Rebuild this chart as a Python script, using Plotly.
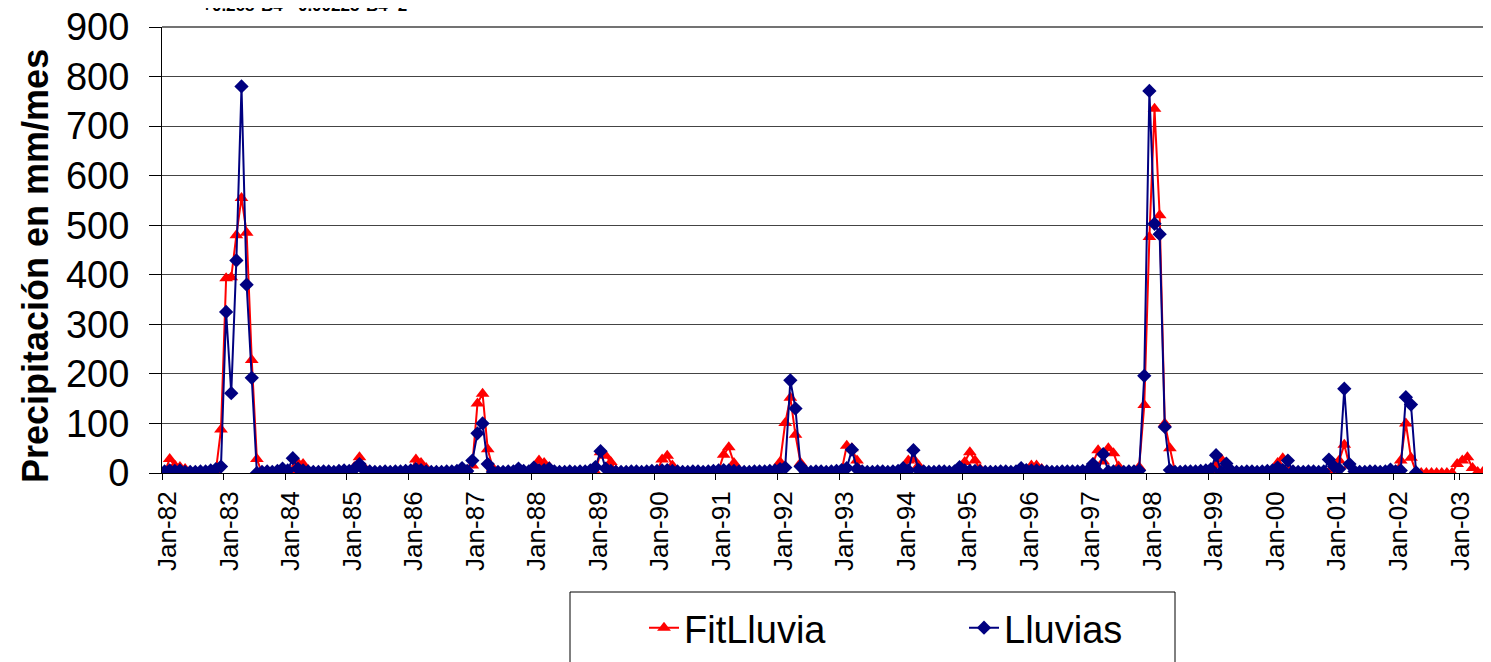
import pandas as pd
import plotly.graph_objects as go

# Monthly categories Jan-82 ... Aug-03
months = pd.date_range("1982-01-01", periods=260, freq="MS").strftime("%b-%y").tolist()

fit_lluvia = [
    2, 28, 15, 12, 8, 2, 0, 0, 0, 1, 4, 88,                # 1982
    393, 395, 480, 555, 485, 228, 28, 0, 0, 0, 2, 3,       # 1983
    5, 5, 20, 18, 5, 1, 0, 0, 0, 0, 1, 2,                  # 1984
    2, 12, 32, 10, 2, 0, 0, 0, 0, 0, 1, 2,                 # 1985
    3, 27, 20, 10, 2, 0, 0, 0, 0, 1, 2, 3,                 # 1986
    15, 140, 160, 48, 10, 0, 0, 0, 0, 1, 2, 2,             # 1987
    5, 25, 20, 12, 3, 0, 0, 0, 0, 0, 1, 2,                 # 1988
    2, 42, 35, 22, 5, 0, 0, 0, 0, 0, 1, 2,                 # 1989
    3, 27, 35, 15, 3, 0, 0, 0, 0, 0, 1, 3,                 # 1990
    5, 37, 52, 20, 3, 0, 0, 0, 0, 0, 1, 3,                 # 1991
    22, 101, 152, 77, 20, 2, 0, 0, 0, 0, 1, 2,             # 1992
    5, 55, 50, 25, 5, 0, 0, 0, 0, 0, 1, 2,                 # 1993
    5, 25, 28, 15, 3, 0, 0, 0, 0, 0, 1, 3,                 # 1994
    22, 42, 25, 8, 2, 0, 0, 0, 0, 0, 1, 3,                 # 1995
    3, 15, 15, 8, 2, 0, 0, 0, 0, 0, 1, 2,                  # 1996
    5, 20, 46, 23, 50, 40, 13, 0, 0, 1, 12, 137,           # 1997
    476, 735, 520, 100, 50, 3, 0, 0, 0, 0, 1, 3,           # 1998
    5, 16, 28, 10, 3, 0, 0, 0, 0, 0, 1, 2,                 # 1999
    3, 20, 30, 10, 4, 0, 0, 0, 0, 0, 1, 2,                 # 2000
    5, 25, 57, 15, 3, 0, 0, 0, 0, 0, 1, 3,                 # 2001
    5, 25, 100, 31, 2, 0, 0, 0, 0, 0, 0, 0,                # 2002
    18, 25, 32, 10, 2, 2, 0, 0,                            # 2003
]

lluvias = [
    3, 5, 4, 5, 2, 2, 2, 3, 3, 5, 8, 13,                   # 1982
    325, 161, 429, 780, 380, 192, 0, 2, 3, 2, 4, 9,        # 1983
    5, 30, 9, 5, 3, 2, 2, 3, 3, 2, 4, 5,                   # 1984
    4, 8, 18, 5, 3, 2, 2, 3, 2, 3, 3, 4,                   # 1985
    5, 8, 6, 3, 2, 2, 2, 3, 3, 4, 10, 4,                   # 1986
    25, 80, 100, 18, 2, 2, 2, 3, 3, 9, 4, 3,               # 1987
    11, 5, 6, 9, 3, 2, 2, 3, 2, 3, 3, 5,                   # 1988
    12, 44, 9, 4, 2, 2, 2, 3, 3, 2, 3, 4,                  # 1989
    4, 5, 6, 4, 3, 2, 2, 3, 3, 2, 3, 4,                    # 1990
    5, 6, 5, 4, 3, 2, 2, 3, 3, 3, 4, 5,                    # 1991
    8, 11, 187, 130, 13, 2, 2, 3, 3, 2, 3, 4,              # 1992
    6, 10, 47, 8, 3, 2, 2, 3, 3, 2, 3, 4,                  # 1993
    10, 5, 46, 6, 3, 2, 2, 3, 3, 2, 3, 12,                 # 1994
    5, 4, 4, 3, 2, 2, 2, 3, 3, 2, 3, 10,                   # 1995
    6, 5, 5, 4, 3, 2, 2, 3, 3, 3, 3, 4,                    # 1996
    5, 18, 2, 38, 3, 3, 3, 2, 3, 3, 5, 196,                # 1997
    771, 503, 482, 93, 6, 2, 2, 3, 3, 3, 4, 5,             # 1998
    8, 36, 2, 19, 4, 2, 2, 3, 3, 2, 3, 4,                  # 1999
    5, 11, 6, 25, 3, 2, 2, 3, 3, 2, 3, 27,                 # 2000
    13, 8, 170, 18, 3, 2, 2, 3, 3, 2, 3, 7,                # 2001
    3, 5, 153, 138, 1,                                     # 2002
]

year_labels = [m for m in months if m.startswith("Jan")]
y_ticks = list(range(0, 1000, 100))

# The page body has an 8 px margin: figure pixel = screen pixel - 8
OFF = 8
W, H = 1491, 662
L, T = 162 - OFF, 27 - OFF
R = OFF
B = H - (473 - OFF)
pw, ph = W - L - R, H - T - B

def px_x(p):  # screen px -> paper x
    return (p - OFF - L) / pw

def px_y(p):  # screen px -> paper y
    return (H - B - (p - OFF)) / ph

fig = go.Figure()
fig.add_trace(go.Scatter(
    x=months[:len(fit_lluvia)], y=fit_lluvia, name="FitLluvia", mode="lines+markers",
    line=dict(color="#FF0000", width=2),
    marker=dict(symbol="triangle-up", size=12, color="#FF0000"),
))
fig.add_trace(go.Scatter(
    x=months[:len(lluvias)], y=lluvias, name="Lluvias", mode="lines+markers",
    line=dict(color="#000080", width=2),
    marker=dict(symbol="diamond", size=11, color="#000080"),
))

fig.update_layout(
    width=W, height=H,
    margin=dict(l=L, r=R, t=T, b=B, autoexpand=False),
    paper_bgcolor="white", plot_bgcolor="white",
    font=dict(family="Liberation Sans, Arial, sans-serif", color="black"),
    showlegend=True,
    legend=dict(
        orientation="h", x=px_x(644), xanchor="left", y=px_y(628), yanchor="middle",
        font=dict(size=38), bgcolor="rgba(0,0,0,0)", borderwidth=0,
        entrywidth=275, entrywidthmode="pixels", itemsizing="trace",
    ),
    xaxis=dict(
        type="category", categoryorder="array", categoryarray=months,
        range=[-0.5, 258.6], tickson="boundaries",
        tickmode="array", tickvals=year_labels, ticktext=year_labels,
        tickangle=-90, tickfont=dict(size=26), ticklabelshift=3, ticklabelstandoff=7,
        ticklabeloverflow="allow",
        ticks="outside", ticklen=6, tickcolor="black",
        showline=True, linecolor="black", linewidth=1,
        showgrid=False, zeroline=False, automargin=False,
    ),
    yaxis=dict(
        range=[0, 900], tickmode="array", tickvals=y_ticks,
        tickfont=dict(size=38), ticks="outside", ticklen=12, tickcolor="black",
        ticklabelstandoff=12, ticklabeloverflow="allow",
        showline=True, linecolor="black", linewidth=1,
        showgrid=True, gridcolor="#444", gridwidth=1, zeroline=False, automargin=False,
    ),
    shapes=[
        # top gridline (plotly skips the grid line at the range edge)
        dict(type="line", xref="paper", yref="paper", x0=0, x1=1, y0=1, y1=1,
             line=dict(color="#444", width=1.5), layer="above"),
        dict(type="rect", xref="paper", yref="paper",
             x0=px_x(570), x1=px_x(1175), y0=px_y(690), y1=px_y(592),
             line=dict(color="black", width=1), fillcolor="rgba(0,0,0,0)", layer="below"),
    ],
    annotations=[
        dict(text="<b>Precipitación en mm/mes</b>", textangle=-90, showarrow=False,
             xref="paper", yref="paper", x=px_x(35), y=px_y(266),
             xanchor="center", yanchor="middle", font=dict(size=36)),
        dict(text="<b>+0.268*B4 - 0.00225*B4^2</b>", showarrow=False,
             xref="paper", yref="paper", x=px_x(200), y=px_y(17),
             xanchor="left", yanchor="bottom", font=dict(size=17)),
    ],
)

fig.write_html("out.html")
